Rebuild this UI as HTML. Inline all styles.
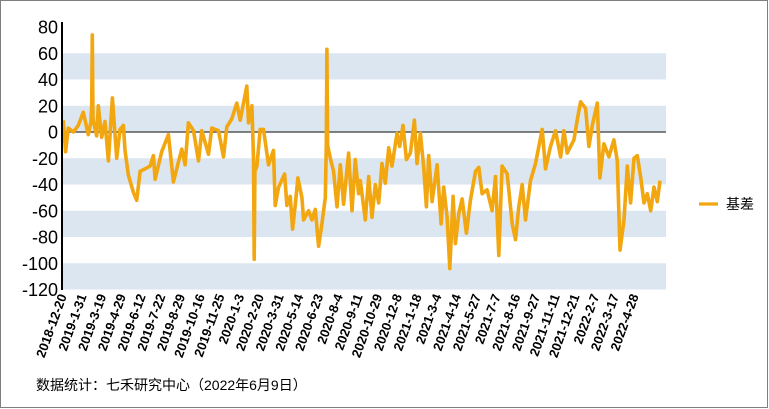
<!DOCTYPE html>
<html><head><meta charset="utf-8"><style>
body{margin:0;background:#fff;}
svg{display:block;font-family:"Liberation Sans","Noto Sans CJK SC",sans-serif;}
</style></head><body>
<svg width="769" height="409">
<rect x="0.5" y="0.5" width="767" height="407" fill="#fff" stroke="#7f7f7f"/>
<g id="bands"></g>
<g id="yticks"></g>
<g id="xticks"></g>
<line x1="63" y1="132" x2="666" y2="132" stroke="#595959" stroke-width="1.5" id="zero"/>
<path id="series" fill="none" stroke="#f2a60f" stroke-width="3.6" stroke-linejoin="round"/>
<line x1="62" y1="22" x2="62" y2="290" stroke="#000" stroke-width="2"/>
<g>
<line x1="699" y1="204" x2="718" y2="204" stroke="#f2a60f" stroke-width="3.2"/>
<text x="726" y="209" font-size="14" fill="#000">基差</text>
</g>
<text x="36" y="390" font-size="14" fill="#000">数据统计：七禾研究中心（2022年6月9日）</text>
</svg>
<script>
const yTicks=[80,60,40,20,0,-20,-40,-60,-80,-100,-120];
const xLabels=["2018-12-20","2019-1-31","2019-3-19","2019-4-29","2019-6-12","2019-7-22","2019-8-29","2019-10-16","2019-11-25","2020-1-3","2020-2-20","2020-3-31","2020-5-14","2020-6-23","2020-8-4","2020-9-11","2020-10-29","2020-12-8","2021-1-18","2021-3-4","2021-4-14","2021-5-27","2021-7-7","2021-8-16","2021-9-27","2021-11-11","2021-12-21","2022-2-7","2022-3-17","2022-4-28"];
const days=[0,7,15,30,45,60,75,83,85,87,89,93,100,105,115,125,135,147,160,170,180,185,195,210,220,230,245,260,270,275,295,315,330,345,355,365,375,390,405,415,435,445,465,480,490,505,520,530,550,555,565,570,572,574,580,590,600,615,630,635,645,663,670,680,687,695,703,715,720,735,745,755,765,775,785,788,790,792,800,810,820,830,840,855,865,875,885,890,905,915,925,935,945,955,965,975,985,1000,1008,1018,1028,1040,1052,1060,1070,1080,1088,1095,1105,1120,1132,1140,1150,1158,1168,1175,1185,1195,1208,1220,1235,1245,1255,1270,1285,1295,1305,1315,1330,1345,1355,1365,1375,1385,1400,1415,1435,1445,1460,1475,1490,1500,1510,1530,1540,1550,1565,1575,1585,1600,1608,1620,1635,1650,1660,1668,1680,1690,1700,1710,1720,1730,1740,1750,1760,1770,1780,1788];
const basis=[9,-15,3,0,5,15,-2,8,20,74,10,5,-3,20,-4,8,-22,26,-20,2,5,-14,-33,-46,-52,-30,-28,-26,-18,-36,-15,-2,-38,-23,-13,-25,7,1,-22,1,-17,3,1,-19,4,10,22,9,35,7,20,-20,-97,-30,-26,2,2,-25,-14,-56,-42,-32,-56,-49,-74,-56,-35,-50,-67,-60,-67,-59,-87,-70,-50,-10,63,-10,-20,-30,-57,-25,-55,-16,-60,-21,-47,-37,-67,-34,-65,-40,-54,-24,-39,-12,-26,-1,-11,5,-21,-16,9,-24,-1,-27,-57,-18,-53,-25,-70,-42,-65,-104,-49,-85,-62,-51,-77,-52,-30,-27,-47,-44,-60,-34,-94,-26,-32,-70,-82,-57,-40,-67,-37,-24,2,-28,-11,1,-19,1,-16,-6,9,23,18,-11,5,22,-35,-9,-19,-6,-22,-90,-67,-26,-54,-20,-18,-34,-54,-47,-60,-42,-53,-37];
const NS="http://www.w3.org/2000/svg";
const yS=v=>132-(v*262.5/200);
const xS=d=>63.3+d*(596.7/1788);
const bands=document.getElementById('bands');
[[40,60],[0,20],[-40,-20],[-80,-60],[-120,-100]].forEach(b=>{
  const r=document.createElementNS(NS,'rect');
  
  
  r.setAttribute('x',63);r.setAttribute('width',603);
  r.setAttribute('y',yS(b[1]));r.setAttribute('height',yS(b[0])-yS(b[1]));
  r.setAttribute('fill','#dce6f1');bands.appendChild(r);
});
const yt=document.getElementById('yticks');
yTicks.forEach(v=>{
  const t=document.createElementNS(NS,'text');
  
  
  t.setAttribute('x',58);t.setAttribute('y',yS(v)+6.5);
  t.setAttribute('text-anchor','end');t.setAttribute('font-size','18');
  t.textContent=v;yt.appendChild(t);
});
const xt=document.getElementById('xticks');
xLabels.forEach((s,i)=>{
  const t=document.createElementNS(NS,'text');
  
  
  const x=67+i*19.72,y=296;
  t.setAttribute('x',x);t.setAttribute('y',y);
  t.setAttribute('text-anchor','end');t.setAttribute('font-size','13');t.setAttribute('font-weight','bold');
  t.setAttribute('transform','rotate(-70 '+x+' '+y+')');
  t.textContent=s;xt.appendChild(t);
});
let d='';
days.forEach((dd,i)=>{d+=(i?'L':'M')+xS(dd).toFixed(1)+' '+yS(basis[i]).toFixed(1);});
document.getElementById('series').setAttribute('d',d);
</script>
</body></html>
